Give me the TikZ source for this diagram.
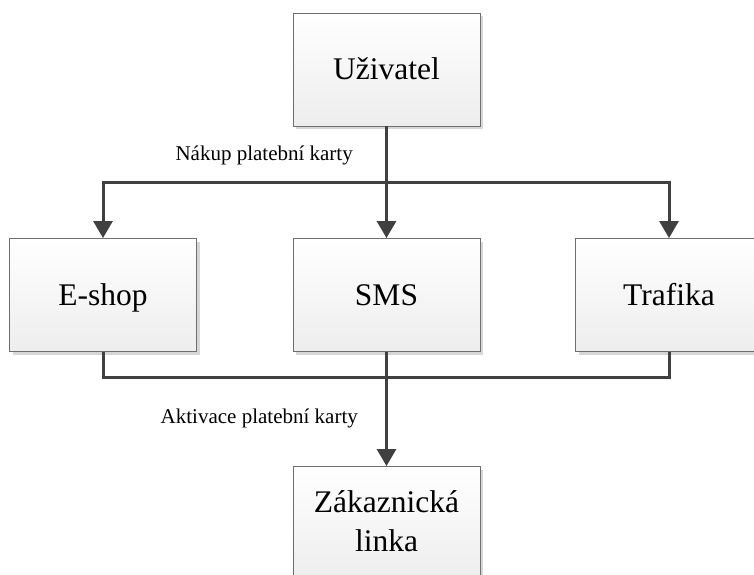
\documentclass[tikz,border=0pt]{standalone}
\usepackage{fontspec}
\setmainfont{Liberation Serif}
\usetikzlibrary{arrows.meta,shadows}
\definecolor{lineclr}{HTML}{404040}
\definecolor{boxborder}{HTML}{6E6E6E}
\definecolor{boxbot}{HTML}{EDEDED}
\definecolor{shadowclr}{HTML}{D6D6D6}
\tikzset{
  box/.style={draw=boxborder, line width=0.9pt, top color=white, bottom color=boxbot,
    minimum width=187pt, minimum height=113pt, inner sep=0pt, align=center,
    font=\fontsize{31.5}{39}\selectfont,
    drop shadow={shadow xshift=3pt, shadow yshift=-3pt, fill=shadowclr, opacity=1}},
  oneline/.style={text height=20pt, text depth=0pt},
  conn/.style={draw=lineclr, line width=3pt},
  arr/.style={conn, -{Triangle[width=19pt,length=17pt]}},
  lbl/.style={font=\fontsize{21}{24}\selectfont, inner sep=0pt}
}
\begin{document}
\begin{tikzpicture}[x=1pt,y=-1pt]
\useasboundingbox (0,0) rectangle (754,574);
\node[box, oneline] (user) at (386.5,69.5) {Uživatel};
\node[box, oneline] (eshop) at (103,295) {E-shop};
\node[box, oneline] (sms) at (386.5,295) {SMS};
\node[box, oneline] (trafika) at (669,295) {Trafika};
\node[box] (zak) at (386.5,523) {\rule{0pt}{25pt}Zákaznická\\linka\rule[-8pt]{0pt}{8pt}};

\coordinate (top) at (386.5,182);
\coordinate (bot) at (386.5,377);

\draw[arr] (user.south) -- (sms.north);
\draw[arr] (top) -| (eshop.north);
\draw[arr] (top) -| (trafika.north);

\draw[conn] (eshop.south) |- (bot) -| (trafika.south);
\draw[arr] (sms.south) -- (zak.north);

\node[lbl, anchor=base east] (nakup) at (353,160) {Nákup platební karty};
\node[lbl, anchor=base east] (aktivace) at (358,423) {Aktivace platební karty};
\end{tikzpicture}
\end{document}
